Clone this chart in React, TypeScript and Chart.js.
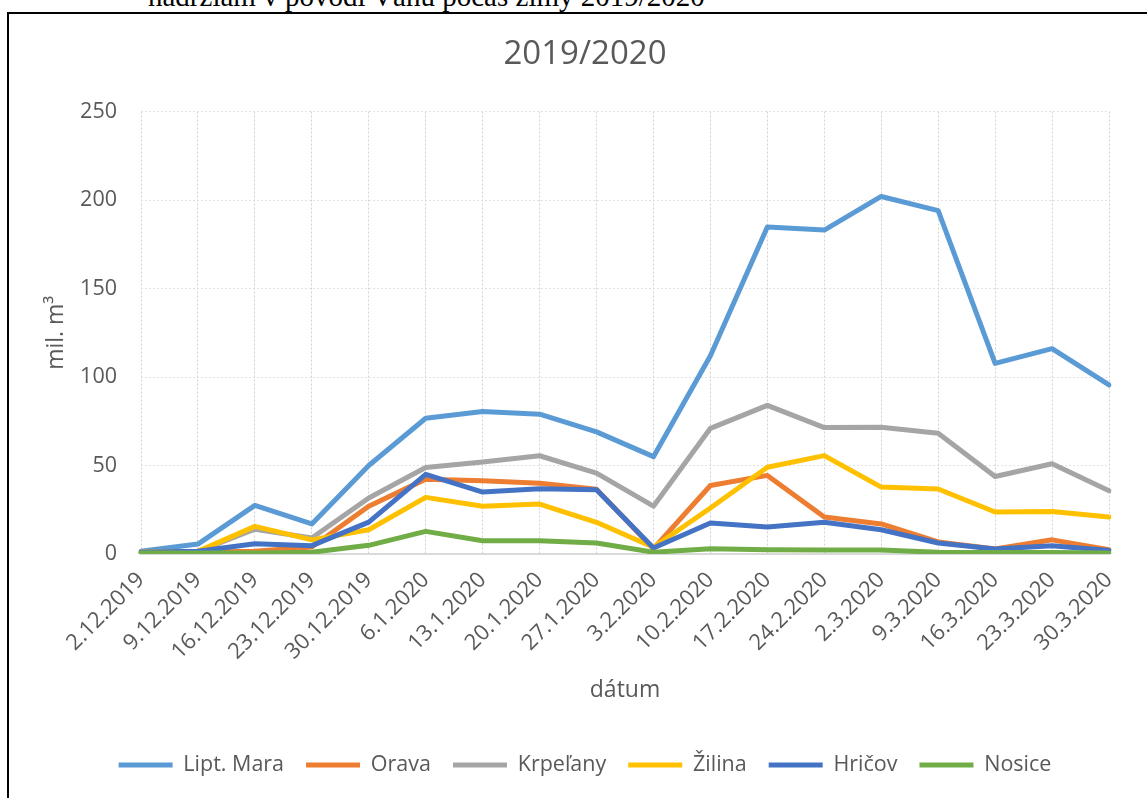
import React, { useEffect, useRef } from "react";
import { Chart, registerables } from "chart.js";

Chart.register(...registerables);

// Weekly volumes (mil. m³) in the Váh basin reservoirs, winter 2019/2020
const dates = [
  "2.12.2019", "9.12.2019", "16.12.2019", "23.12.2019", "30.12.2019",
  "6.1.2020", "13.1.2020", "20.1.2020", "27.1.2020", "3.2.2020",
  "10.2.2020", "17.2.2020", "24.2.2020", "2.3.2020", "9.3.2020",
  "16.3.2020", "23.3.2020", "30.3.2020",
];

const liptMara = [1.5, 5.6, 27.5, 17, 50, 76.7, 80.5, 79, 69, 55, 112, 184.8, 183, 202, 194, 107.7, 116, 95.5];
const orava = [1, 1, 1.5, 4, 27, 42.3, 41.4, 40, 36.6, 3, 38.7, 44.4, 20.9, 17, 6.8, 2.8, 8, 2.4];
const krpelany = [1, 1.5, 14, 9, 31.6, 48.9, 52, 55.5, 45.7, 27, 71, 84, 71.4, 71.6, 68.2, 43.8, 51, 35.7];
const zilina = [1, 1.5, 15.6, 8, 13.7, 32, 27, 28.2, 17.9, 3.8, 26, 49, 55.6, 37.8, 36.7, 23.7, 24, 20.9];
const hricov = [1, 1.5, 5.8, 4.7, 18, 45, 35, 36.8, 36.3, 3.4, 17.5, 15.2, 17.9, 13.7, 6.2, 2.8, 4.7, 2];
const nosice = [0.5, 0.5, 0.5, 1, 4.9, 12.8, 7.5, 7.5, 6.2, 1, 3, 2.4, 2.2, 2.2, 1, 0.8, 0.8, 0.5];

const seriesNames = ["Lipt. Mara", "Orava", "Krpeľany", "Žilina", "Hričov", "Nosice"];
const seriesValues = [liptMara, orava, krpelany, zilina, hricov, nosice];
const seriesColors = ["#5B9BD5", "#ED7D31", "#A5A5A5", "#FFC000", "#4472C4", "#70AD47"];

const yTicks = [0, 50, 100, 150, 200, 250];

const FONT = "'Open Sans', 'DejaVu Sans', sans-serif";
const TEXT = "#595959";

export default function App() {
  const canvasRef = useRef<HTMLCanvasElement | null>(null);

  useEffect(() => {
    const canvas = canvasRef.current;
    if (!canvas) return;

    const datasets = seriesNames.map((name, i) => ({
      label: name,
      data: seriesValues[i],
      borderColor: seriesColors[i],
      backgroundColor: seriesColors[i],
      borderWidth: 5,
      borderJoinStyle: "round" as const,
      borderCapStyle: "round" as const,
      pointRadius: 0,
      pointHoverRadius: 0,
      tension: 0,
      fill: false,
      // later series are painted over earlier ones
      order: seriesNames.length - i,
    }));

    const chart = new Chart(canvas, {
      type: "line",
      data: { labels: dates, datasets },
      options: {
        responsive: false,
        animation: false,
        devicePixelRatio: 1,
        layout: { padding: { left: 0, right: 0, top: 0, bottom: 12.25 } },
        plugins: {
          title: {
            display: true,
            text: "2019/2020",
            color: TEXT,
            font: { family: FONT, size: 33, weight: "normal" },
            padding: { top: 21.2, bottom: 36.7 },
          },
          legend: {
            position: "bottom",
            labels: {
              color: TEXT,
              font: { family: FONT, size: 21.5 },
              usePointStyle: true,
              pointStyle: "line",
              pointStyleWidth: 54,
              padding: 22,
              sort: (a: any, b: any) => a.datasetIndex - b.datasetIndex,
            },
          },
          tooltip: { enabled: false },
        },
        scales: {
          x: {
            offset: false,
            afterFit: (s: any) => {
              s.height = 178.25;
            },
            ticks: {
              color: TEXT,
              font: { family: FONT, size: 22 },
              autoSkip: false,
              minRotation: 45,
              maxRotation: 45,
              padding: 13,
            },
            grid: { color: "#D0D0D0", lineWidth: 1, drawTicks: false },
            border: { display: true, color: "#D9D9D9", width: 2, dash: [2, 2] },
            title: {
              display: true,
              text: "dátum",
              color: TEXT,
              font: { family: FONT, size: 23 },
              padding: { top: 0, bottom: 27.5 },
            },
          },
          y: {
            min: 0,
            max: 250,
            afterFit: (s: any) => {
              s.width = 132;
            },
            afterBuildTicks: (s: any) => {
              s.ticks = yTicks.map((v) => ({ value: v }));
            },
            ticks: {
              color: TEXT,
              font: { family: FONT, size: 21.5 },
              padding: 24,
            },
            grid: { color: "#E2E2E2", lineWidth: 1, drawTicks: false },
            border: { display: false, dash: [2, 2] },
            title: {
              display: true,
              text: "mil. m³",
              color: TEXT,
              font: { family: FONT, size: 23 },
              padding: { top: 34, bottom: 0 },
            },
          },
          yRight: {
            type: "linear",
            position: "right",
            display: true,
            afterFit: (s: any) => {
              s.width = 52;
            },
            ticks: { display: false },
            grid: { display: false, drawOnChartArea: false, drawTicks: false },
            border: { display: false },
          },
        },
      },
    } as any);

    return () => chart.destroy();
  }, []);

  return (
    <div
      style={{
        position: "fixed",
        left: 0,
        top: 0,
        width: 1147,
        height: 798,
        overflow: "hidden",
        background: "#fff",
      }}
    >
      <div
        style={{
          position: "absolute",
          left: 148,
          top: -18,
          fontFamily: "'Liberation Serif', 'DejaVu Serif', serif",
          fontSize: 29,
          lineHeight: "29px",
          whiteSpace: "nowrap",
          color: "#000",
        }}
      >
        nádržiam v povodí Váhu počas zimy 2019/2020
      </div>
      <div
        style={{
          position: "absolute",
          left: 7,
          top: 12,
          width: 1200,
          height: 800,
          borderTop: "2px solid #000",
          borderLeft: "2px solid #000",
        }}
      />
      <canvas
        ref={canvasRef}
        width={1152}
        height={784}
        style={{ position: "absolute", left: 9, top: 14, width: 1152, height: 784, display: "block" }}
      />
    </div>
  );
}
